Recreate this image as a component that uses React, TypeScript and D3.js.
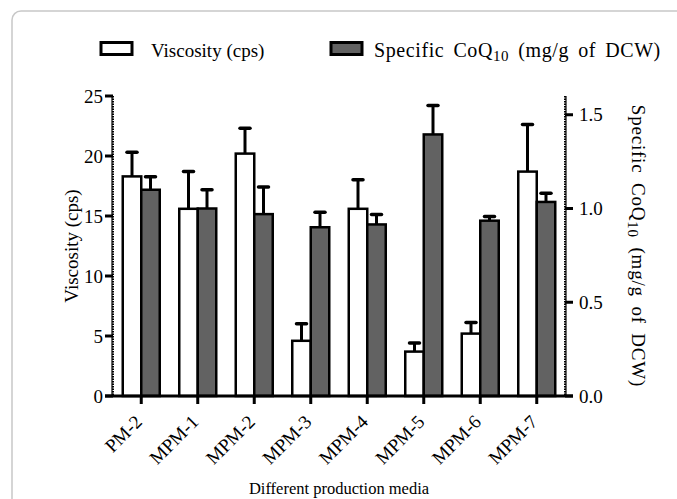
import React from "react";
import * as d3 from "d3";

const categories = ["PM-2", "MPM-1", "MPM-2", "MPM-3", "MPM-4", "MPM-5", "MPM-6", "MPM-7"];
const viscosity = [18.3, 15.6, 20.2, 4.6, 15.6, 3.7, 5.2, 18.7];
const viscosityErr = [2.1, 3.2, 2.2, 1.5, 2.5, 0.8, 1.0, 4.0];
const coq10 = [1.1, 1.0, 0.97, 0.9, 0.915, 1.395, 0.935, 1.035];
const coq10Err = [0.075, 0.105, 0.15, 0.085, 0.058, 0.16, 0.028, 0.052];
const leftTicks = [0, 5, 10, 15, 20, 25];
const rightTicks = [0, 0.5, 1.0, 1.5];

const W = 677;
const H = 499;
const FONT = "'Liberation Serif', 'Times New Roman', serif";

export default function App() {
  const x0 = 113, x1 = 565, yBot = 396, yTop = 96;
  const x = d3.scaleBand<string>().domain(categories).range([x0, x1]).padding(0);
  const yL = d3.scaleLinear().domain([0, 25]).range([yBot, yTop]);
  const yR = d3.scaleLinear().domain([0, 1.6]).range([yBot, yTop]);
  const barW = 18.5;
  const grey = "#626262";

  const errBar = (cx: number, yv: number, ye: number, key: string) => (
    <g key={key}>
      <line x1={cx} x2={cx} y1={yv} y2={ye} stroke="#000" strokeWidth={3} />
      <line x1={cx - 5} x2={cx + 5} y1={ye + 1} y2={ye + 1} stroke="#000" strokeWidth={3.5} strokeLinecap="round" />
    </g>
  );

  const coqTitle = (
    <>
      Specific CoQ<tspan fontSize={15} dy={4}>10</tspan>
      <tspan dy={-4}> (mg/g of DCW)</tspan>
    </>
  );

  return (
    <svg width={W} height={H} style={{ position: "absolute", left: 0, top: 0, background: "#fff" }} fontFamily={FONT}>
      <rect x={12} y={11} width={720} height={600} rx={9} fill="none" stroke="#c8c8c8" strokeWidth={1.5} />

      {/* legend */}
      <rect x={101} y={42.5} width={31} height={12} fill="#fff" stroke="#000" strokeWidth={3} />
      <text x={151} y={57} fontSize={19}>Viscosity (cps)</text>
      <rect x={331} y={42.5} width={31} height={12} fill={grey} stroke="#000" strokeWidth={3} />
      <text x={374} y={57} fontSize={20} letterSpacing={0.6} wordSpacing={3.5}>
        {coqTitle}
      </text>

      {/* bars */}
      {categories.map((c, i) => {
        const cx = (x(c) as number) + x.bandwidth() / 2;
        return (
          <g key={c}>
            {errBar(cx - barW / 2, yL(viscosity[i]), yL(viscosity[i] + viscosityErr[i]), "ev")}
            {errBar(cx + barW / 2, yR(coq10[i]), yR(coq10[i] + coq10Err[i]), "ec")}
            <rect x={cx - barW} y={yL(viscosity[i])} width={barW} height={yBot - yL(viscosity[i])} fill="#fff" stroke="#000" strokeWidth={2.5} />
            <rect x={cx} y={yR(coq10[i])} width={barW} height={yBot - yR(coq10[i])} fill={grey} stroke="#000" strokeWidth={2.5} />
          </g>
        );
      })}

      {/* left axis */}
      <line x1={x0 - 1} x2={x0 - 1} y1={yTop} y2={yBot} stroke="#000" strokeWidth={1.2} />
      <line x1={x0} x2={x0} y1={yTop} y2={yBot} stroke="#000" strokeWidth={2} strokeDasharray="1.5 1" />
      {leftTicks.map((t) => (
        <g key={"l" + t}>
          <line x1={x0 - 8} x2={x0} y1={yL(t)} y2={yL(t)} stroke="#000" strokeWidth={3} />
          <text x={x0 - 10} y={yL(t)} dy="0.35em" textAnchor="end" fontSize={19}>{t}</text>
        </g>
      ))}

      {/* right axis */}
      <line x1={x1 + 1} x2={x1 + 1} y1={yTop} y2={yBot} stroke="#000" strokeWidth={1.2} />
      <line x1={x1} x2={x1} y1={yTop} y2={yBot} stroke="#000" strokeWidth={2} strokeDasharray="1.5 1" />
      {rightTicks.map((t) => (
        <g key={"r" + t}>
          <line x1={x1} x2={x1 + 8} y1={yR(t)} y2={yR(t)} stroke="#000" strokeWidth={3} />
          <text x={x1 + 14} y={yR(t)} dy="0.35em" fontSize={19}>{d3.format(".1f")(t)}</text>
        </g>
      ))}

      {/* x axis */}
      <line x1={x0 - 8} x2={x1 + 8} y1={yBot} y2={yBot} stroke="#000" strokeWidth={3} />
      {categories.map((c) => {
        const cx = (x(c) as number) + x.bandwidth() / 2;
        return (
          <g key={"x" + c}>
            <line x1={cx} x2={cx} y1={yBot} y2={yBot + 8} stroke="#000" strokeWidth={3} />
            <text transform={`translate(${cx + 2},${yBot + 27}) rotate(-45)`} textAnchor="end" fontSize={19}>{c}</text>
          </g>
        );
      })}

      {/* titles */}
      <text x={339} y={494} textAnchor="middle" fontSize={16.5}>Different production media</text>
      <text transform={`translate(78,246) rotate(-90)`} textAnchor="middle" fontSize={19}>Viscosity (cps)</text>
      <text transform={`translate(632,246) rotate(90)`} textAnchor="middle" fontSize={19} letterSpacing={0.8} wordSpacing={4}>
        {coqTitle}
      </text>
    </svg>
  );
}
